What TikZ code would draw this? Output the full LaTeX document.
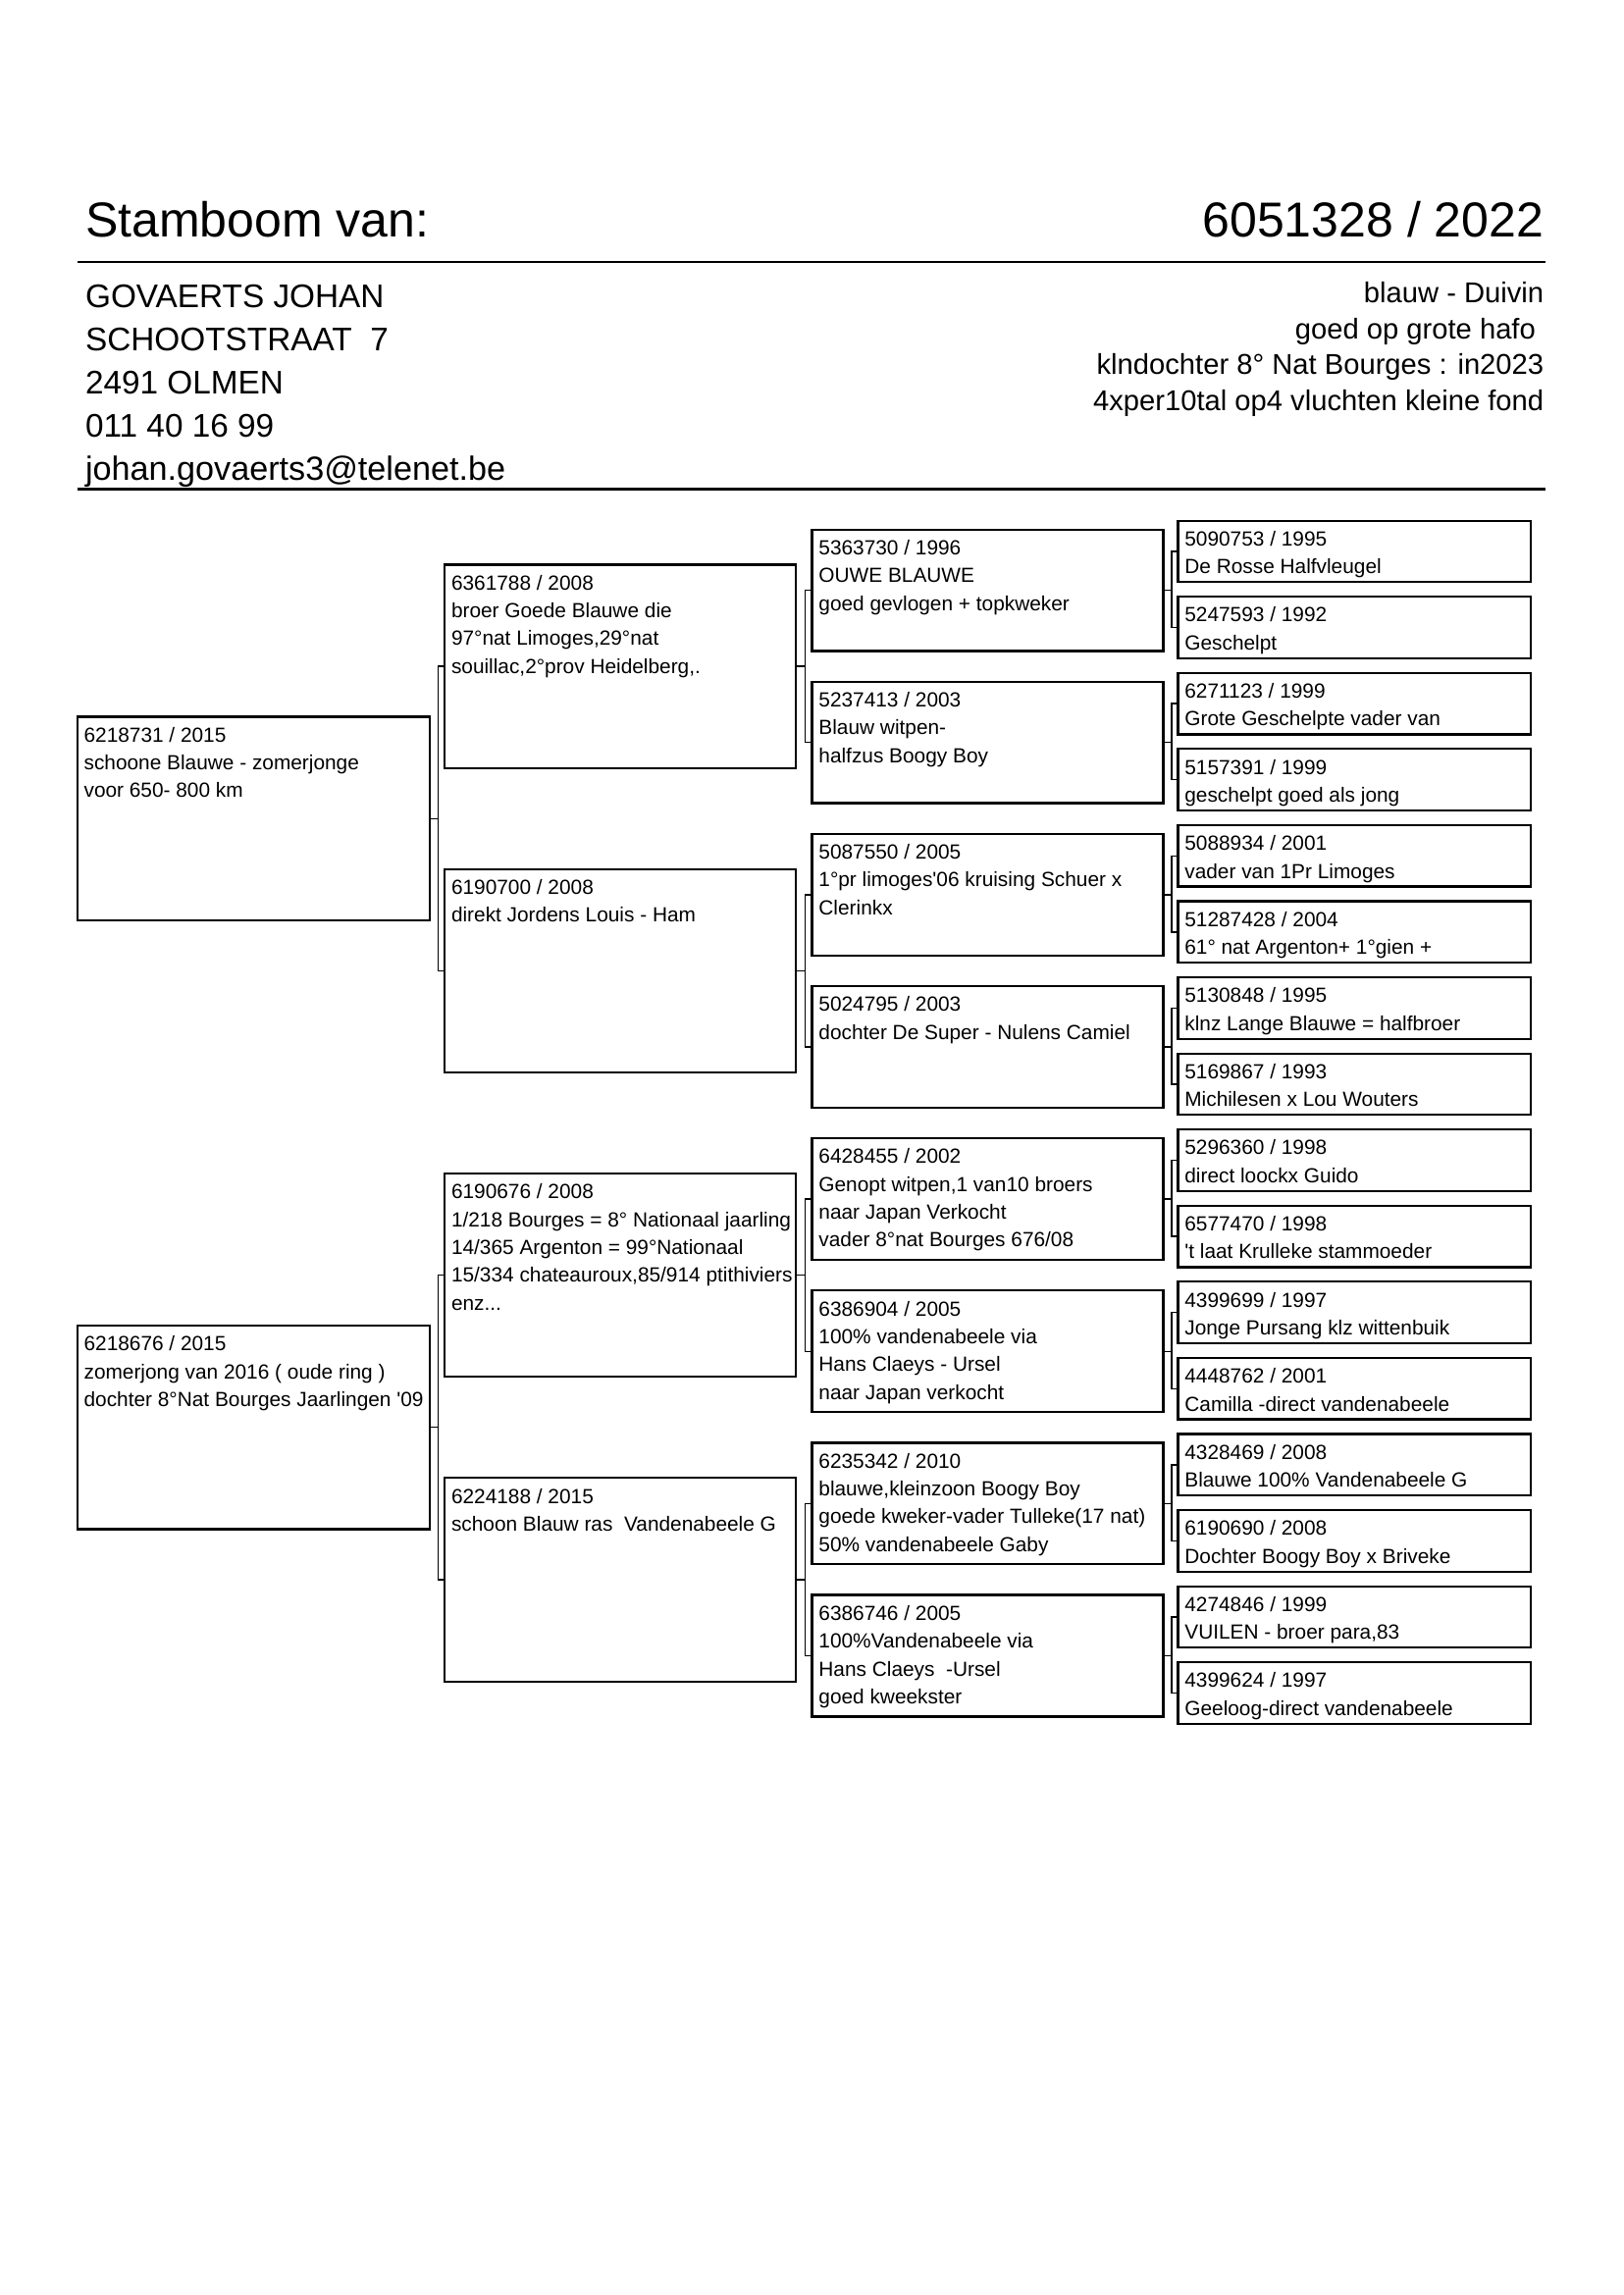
\documentclass[tikz,border=0pt]{standalone}
\usepackage{fontspec}
\newfontfamily\lib{Liberation Sans}
\newdimen\ux \ux=0.5368pt
\tikzset{
  pbox/.style={draw, line width=0.8pt, inner sep=0pt, anchor=north west},
  ptxt/.style={anchor=base west, inner sep=0pt, font=\lib\fontsize{7.5}{10.2}\selectfont},
  conn/.style={line width=0.5pt},
  rule/.style={line width=1pt},
  big/.style={inner sep=0pt, font=\lib\fontsize{18}{22}\selectfont},
  addr/.style={anchor=base west, inner sep=0pt, font=\lib\fontsize{12}{14}\selectfont},
  info/.style={anchor=base east, inner sep=0pt, font=\lib\fontsize{10.5}{12}\selectfont}
}
\newcommand\pbox[6]{%
  \node[pbox, minimum width=#4\ux, minimum height=#5\ux] (#1) at (#2,#3) {};
  \node[ptxt] (#1t) at ([xshift=5\ux,yshift=-18\ux]#1.north west) {\parbox[t]{300pt}{\raggedright #6}};}
\newcommand\link[4]{%
  \draw[conn] (#1.east) -- ++(#4,0) |- (#2.west);
  \draw[conn] (#1.east) -- ++(#4,0) |- (#3.west);}
\begin{document}
\begin{tikzpicture}[x=0.5368pt, y=-0.5368pt]
\useasboundingbox (0,0) rectangle (1109,1568);
% header
\node[big, anchor=base west] (title) at (58,162) {Stamboom van:};
\node[big, anchor=base east] (ring) at (1055,162) {6051328 / 2022};
\draw[rule] (53,179) -- (1056,179);
\node[addr] (a1) at (58,210) {GOVAERTS JOHAN};
\node[addr] (a2) at (58,239.5) {SCHOOTSTRAAT\ \ 7};
\node[addr] (a3) at (58,269) {2491 OLMEN};
\node[addr] (a4) at (58,298.5) {011 40 16 99};
\node[addr] (a5) at (58,328) {\fontsize{12.3}{14}\selectfont johan.govaerts3@telenet.be};
\node[info] (i1) at (1055,207) {blauw - Duivin};
\node[info] (i2) at (1055,231.5) {goed op grote hafo\kern3pt};
\node[info] (i3) at (1055,256) {klndochter 8° Nat Bourges : in2023};
\node[info] (i4) at (1055,280.5) {4xper10tal op4 vluchten kleine fond};
\draw[rule] (53,334) -- (1056,334);
% column 1
\pbox{A}{52}{489}{241}{139}{6218731 / 2015\\schoone Blauwe - zomerjonge\\voor 650- 800 km}
\pbox{B}{52}{905}{241}{139}{6218676 / 2015\\zomerjong van 2016 ( oude ring )\\dochter 8°Nat Bourges Jaarlingen '09}
% column 2
\pbox{C}{303}{385}{240}{139}{6361788 / 2008\\broer Goede Blauwe die\\97°nat Limoges,29°nat\\souillac,2°prov Heidelberg,.}
\pbox{D}{303}{593}{240}{139}{6190700 / 2008\\direkt Jordens Louis - Ham}
\pbox{E}{303}{801}{240}{139}{6190676 / 2008\\1/218 Bourges = 8° Nationaal jaarling\\14/365 Argenton = 99°Nationaal\\15/334 chateauroux,85/914 ptithiviers\\enz...}
\pbox{F}{303}{1009}{240}{139}{6224188 / 2015\\schoon Blauw ras\ \ Vandenabeele G}
% column 3
\pbox{G}{554}{361}{240}{83}{5363730 / 1996\\OUWE BLAUWE\\goed gevlogen + topkweker}
\pbox{H}{554}{465}{240}{83}{5237413 / 2003\\Blauw witpen-\\halfzus Boogy Boy}
\pbox{I}{554}{569}{240}{83}{5087550 / 2005\\1°pr limoges'06 kruising Schuer x\\Clerinkx}
\pbox{J}{554}{673}{240}{83}{5024795 / 2003\\dochter De Super - Nulens Camiel}
\pbox{K}{554}{777}{240}{83}{6428455 / 2002\\Genopt witpen,1 van10 broers\\naar Japan Verkocht\\vader 8°nat Bourges 676/08}
\pbox{L}{554}{881}{240}{83}{6386904 / 2005\\100\% vandenabeele via\\Hans Claeys - Ursel\\naar Japan verkocht}
\pbox{M}{554}{985}{240}{83}{6235342 / 2010\\blauwe,kleinzoon Boogy Boy\\goede kweker-vader Tulleke(17 nat)\\50\% vandenabeele Gaby}
\pbox{N}{554}{1089}{240}{83}{6386746 / 2005\\100\%Vandenabeele via\\Hans Claeys\ \ -Ursel\\goed kweekster}
% column 4
\pbox{P1}{804}{355}{241}{42}{5090753 / 1995\\De Rosse Halfvleugel}
\pbox{P2}{804}{407}{241}{42}{5247593 / 1992\\Geschelpt}
\pbox{P3}{804}{459}{241}{42}{6271123 / 1999\\Grote Geschelpte vader van}
\pbox{P4}{804}{511}{241}{42}{5157391 / 1999\\geschelpt goed als jong}
\pbox{P5}{804}{563}{241}{42}{5088934 / 2001\\vader van 1Pr Limoges}
\pbox{P6}{804}{615}{241}{42}{51287428 / 2004\\61° nat Argenton+ 1°gien +}
\pbox{P7}{804}{667}{241}{42}{5130848 / 1995\\klnz Lange Blauwe = halfbroer}
\pbox{P8}{804}{719}{241}{42}{5169867 / 1993\\Michilesen x Lou Wouters}
\pbox{P9}{804}{771}{241}{42}{5296360 / 1998\\direct loockx Guido}
\pbox{P10}{804}{823}{241}{42}{6577470 / 1998\\'t laat Krulleke stammoeder}
\pbox{P11}{804}{875}{241}{42}{4399699 / 1997\\Jonge Pursang klz wittenbuik}
\pbox{P12}{804}{927}{241}{42}{4448762 / 2001\\Camilla -direct vandenabeele}
\pbox{P13}{804}{979}{241}{42}{4328469 / 2008\\Blauwe 100\% Vandenabeele G}
\pbox{P14}{804}{1031}{241}{42}{6190690 / 2008\\Dochter Boogy Boy x Briveke}
\pbox{P15}{804}{1083}{241}{42}{4274846 / 1999\\VUILEN - broer para,83}
\pbox{P16}{804}{1135}{241}{42}{4399624 / 1997\\Geeloog-direct vandenabeele}
% connectors
\link{A}{C}{D}{5}
\link{B}{E}{F}{5}
\link{C}{G}{H}{5.5}
\link{D}{I}{J}{5.5}
\link{E}{K}{L}{5.5}
\link{F}{M}{N}{5.5}
\link{G}{P1}{P2}{5}
\link{H}{P3}{P4}{5}
\link{I}{P5}{P6}{5}
\link{J}{P7}{P8}{5}
\link{K}{P9}{P10}{5}
\link{L}{P11}{P12}{5}
\link{M}{P13}{P14}{5}
\link{N}{P15}{P16}{5}
\end{tikzpicture}
\end{document}
